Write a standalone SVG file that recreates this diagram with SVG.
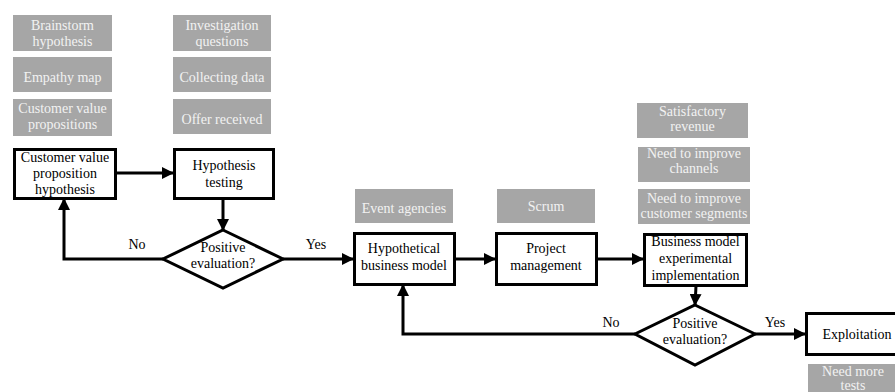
<svg xmlns="http://www.w3.org/2000/svg" width="895" height="392" viewBox="0 0 895 392">
  <style>
    text { font-family: "Liberation Serif", "Times New Roman", Tinos, "Noto Serif", "DejaVu Serif", serif; font-size: 14px; text-anchor: middle; }
    .note rect { fill: #a6a6a6; }
    .note text { fill: #f2f2f2; }
    .step rect, .step polygon { fill: #fff; stroke: #000; stroke-width: 3; }
    .step text { fill: #000; }
    .link { fill: none; stroke: #000; stroke-width: 3; marker-end: url(#arrow); }
    .label { fill: #000; }
  </style>
  <defs>
    <marker id="arrow" markerUnits="userSpaceOnUse" markerWidth="12" markerHeight="12" viewBox="0 0 12 12" refX="11" refY="6" orient="auto">
      <path d="M0,0 L12,6 L0,12 Z" fill="#000"/>
    </marker>
  </defs>

  <!-- supporting notes (grey) -->
  <g id="note-brainstorm" class="note"><rect x="13" y="15" width="99" height="36"/>
    <text x="62.5" y="30">Brainstorm</text><text x="62.5" y="46">hypothesis</text></g>
  <g id="note-empathy" class="note"><rect x="13" y="57" width="99" height="35"/>
    <text x="62.5" y="82">Empathy map</text></g>
  <g id="note-cvp" class="note"><rect x="13" y="99" width="99" height="37"/>
    <text x="62.5" y="113">Customer value</text><text x="62.5" y="129">propositions</text></g>

  <g id="note-investigation" class="note"><rect x="173" y="15" width="98" height="36"/>
    <text x="222" y="30">Investigation</text><text x="222" y="46">questions</text></g>
  <g id="note-collecting" class="note"><rect x="173" y="57" width="98" height="35"/>
    <text x="222" y="82">Collecting data</text></g>
  <g id="note-offer" class="note"><rect x="173" y="99" width="98" height="35"/>
    <text x="222" y="124">Offer received</text></g>

  <g id="note-events" class="note"><rect x="355" y="189" width="98" height="34"/>
    <text x="404" y="213">Event agencies</text></g>
  <g id="note-scrum" class="note"><rect x="497" y="189" width="98" height="34"/>
    <text x="546" y="211">Scrum</text></g>

  <g id="note-revenue" class="note"><rect x="637" y="103" width="111" height="35"/>
    <text x="692.5" y="116">Satisfactory</text><text x="692.5" y="131">revenue</text></g>
  <g id="note-channels" class="note"><rect x="638" y="147" width="112" height="35"/>
    <text x="694" y="158">Need to improve</text><text x="694" y="173">channels</text></g>
  <g id="note-segments" class="note"><rect x="638" y="189" width="112" height="35"/>
    <text x="694" y="203">Need to improve</text><text x="694" y="218">customer segments</text></g>

  <g id="note-tests" class="note"><rect x="808" y="364" width="92" height="32"/>
    <text x="853" y="376">Need more</text><text x="853" y="390">tests</text></g>

  <!-- process steps -->
  <g id="step-cvp-hypothesis" class="step"><rect x="14.5" y="149.5" width="101" height="49"/>
    <text x="65" y="162">Customer value</text><text x="65" y="178">proposition</text><text x="65" y="194">hypothesis</text></g>
  <g id="step-hypothesis-testing" class="step"><rect x="174.5" y="149.5" width="99" height="49"/>
    <text x="224" y="170">Hypothesis</text><text x="224" y="187">testing</text></g>
  <g id="decision-1" class="step"><polygon points="223,230 283,259 223,288 163,259"/>
    <text x="223" y="252">Positive</text><text x="223" y="268">evaluation?</text></g>
  <g id="step-hypothetical-model" class="step"><rect x="354.5" y="233.5" width="100" height="51"/>
    <text x="404" y="253">Hypothetical</text><text x="404" y="270">business model</text></g>
  <g id="step-project-management" class="step"><rect x="496.5" y="233.5" width="100" height="51"/>
    <text x="546" y="253">Project</text><text x="546" y="270">management</text></g>
  <g id="step-implementation" class="step"><rect x="644.5" y="234.5" width="102" height="51"/>
    <text x="695.5" y="246">Business model</text><text x="695.5" y="263">experimental</text><text x="695.5" y="280">implementation</text></g>
  <g id="decision-2" class="step"><polygon points="695,305 755,334 695,365 635,334"/>
    <text x="695" y="328">Positive</text><text x="695" y="344">evaluation?</text></g>
  <g id="step-exploitation" class="step"><rect x="806.5" y="313.5" width="95" height="41"/>
    <text x="857" y="339">Exploitation</text></g>

  <!-- connectors -->
  <g id="connectors">
    <path class="link" d="M116,173 L173,173"/>
    <path class="link" d="M223,199 L223,230"/>
    <path class="link" d="M163,259 L64,259 L64,199"/>
    <path class="link" d="M283,259 L353,259"/>
    <path class="link" d="M455,259 L495,259"/>
    <path class="link" d="M597,259 L643,259"/>
    <path class="link" d="M696,286 L695,305"/>
    <path class="link" d="M635,334 L403,334 L403,285"/>
    <path class="link" d="M755,334 L805,334"/>
    <text class="label" x="137" y="249">No</text>
    <text class="label" x="316" y="249">Yes</text>
    <text class="label" x="611" y="327">No</text>
    <text class="label" x="775" y="327">Yes</text>
  </g>
</svg>
